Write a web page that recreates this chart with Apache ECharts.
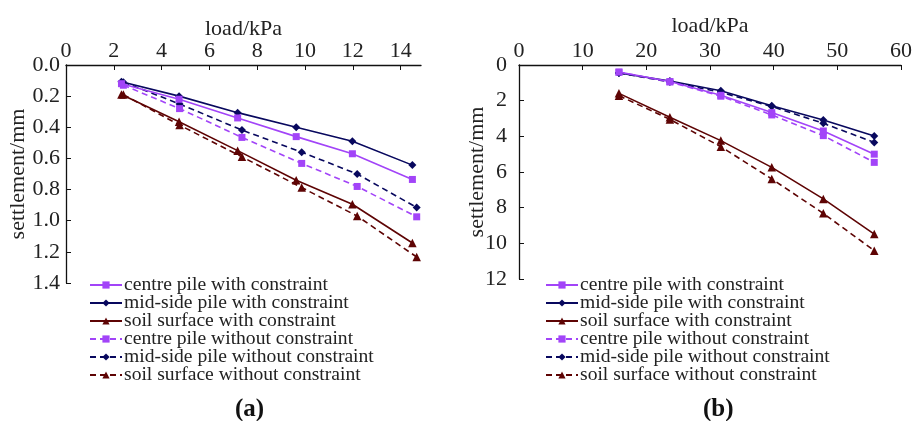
<!DOCTYPE html>
<html><head><meta charset="utf-8">
<script src="https://cdn.jsdelivr.net/npm/echarts@6/dist/echarts.min.js"></script>
<style>html,body{margin:0;padding:0;background:#fff}#c{width:915px;height:421px}</style>
</head><body><div id="c"></div>
<script>
const seriesNames = ['centre pile with constraint','mid-side pile with constraint','soil surface with constraint','centre pile without constraint','mid-side pile without constraint','soil surface without constraint'];
// Chart (a)
const loadA_with = [2.32, 4.73, 7.18, 9.63, 11.98, 14.49];
const loadA_without = [2.4, 4.75, 7.36, 9.86, 12.18, 14.67];
const a_centreWith = [0.12, 0.22, 0.34, 0.46, 0.57, 0.735];
const a_midWith = [0.107, 0.20, 0.306, 0.40, 0.49, 0.643];
const a_soilWith = [0.19, 0.364, 0.55, 0.74, 0.894, 1.143];
const a_centreWithout = [0.13, 0.28, 0.465, 0.632, 0.78, 0.975];
const a_midWithout = [0.11, 0.25, 0.418, 0.56, 0.70, 0.915];
const a_soilWithout = [0.19, 0.386, 0.59, 0.787, 0.97, 1.233];
// Chart (b)
const loadB = [15.7, 23.7, 31.7, 39.7, 47.8, 55.8];
const b_centreWith = [0.4, 0.93, 1.7, 2.67, 3.7, 5.0];
const b_midWith = [0.45, 0.9, 1.44, 2.28, 3.08, 3.98];
const b_soilWith = [1.59, 2.93, 4.24, 5.74, 7.51, 9.48];
const b_centreWithout = [0.4, 0.95, 1.75, 2.8, 3.96, 5.46];
const b_midWithout = [0.45, 0.95, 1.53, 2.33, 3.27, 4.34];
const b_soilWithout = [1.72, 3.05, 4.58, 6.39, 8.32, 10.41];

const colors = ['#a244f8', '#08085e', '#5e0404', '#a244f8', '#08085e', '#5e0404'];
const symbols = ['rect', 'diamond', 'triangle', 'rect', 'diamond', 'triangle'];
const symSizes = [7, 8, 8.5, 7, 8, 8.5];
const font = 'Liberation Serif, Times New Roman, serif';

function zip(xs, ys){ return xs.map((x,i)=>[x, ys[i]]); }
function mk(idx, xs, ys, gi){
  return {
    name: seriesNames[idx], type: 'line', xAxisIndex: gi, yAxisIndex: gi,
    data: zip(xs, ys), symbol: symbols[idx], symbolSize: symSizes[idx],
    showAllSymbol: true,
    itemStyle: {color: colors[idx]},
    lineStyle: {color: colors[idx], width: 1.6, type: idx >= 3 ? [6,4] : 'solid'},
    animation: false, z: 10 - idx
  };
}
const axisCommon = {
  axisLine: {show: true, lineStyle: {color: '#111', width: 1.3}},
  axisTick: {show: true, inside: true, length: 5, lineStyle: {color: '#111'}},
  splitLine: {show: false},
  nameMoveOverlap: false,
  axisLabel: {color: '#222', fontFamily: font, fontSize: 22},
  nameTextStyle: {color: '#222', fontFamily: font, fontSize: 22}
};
const chart = echarts.init(document.getElementById('c'));
const legendCommon = {
  orient: 'vertical', itemWidth: 32, itemHeight: 9, itemGap: -2,
  textStyle: {fontFamily: font, fontSize: 19.6, color: '#222', lineHeight: 18, padding: [0,0,0,-3]},
  data: seriesNames
};
chart.setOption({
  backgroundColor: '#fff',
  animation: false,
  grid: [
    {left: 66, top: 65, width: 355, height: 218},
    {left: 519, top: 65, width: 383, height: 214}
  ],
  xAxis: [
    Object.assign({}, axisCommon, {gridIndex: 0, type: 'value', position: 'top', min: 0, max: 14.85, interval: 2,
      name: 'load/kPa', nameLocation: 'middle', nameGap: 25,
      axisLabel: Object.assign({}, axisCommon.axisLabel, {margin: 3, showMaxLabel: false, formatter: v => (Math.abs(v % 2) < 1e-9 ? String(v) : '')})}),
    Object.assign({}, axisCommon, {gridIndex: 1, type: 'value', position: 'top', min: 0, max: 60, interval: 10,
      name: 'load/kPa', nameLocation: 'middle', nameGap: 28,
      axisLabel: Object.assign({}, axisCommon.axisLabel, {margin: 3})})
  ],
  yAxis: [
    Object.assign({}, axisCommon, {gridIndex: 0, type: 'value', inverse: true, min: 0, max: 1.4, interval: 0.2,
      name: 'settlement/mm', nameLocation: 'middle', nameGap: 37,
      axisLabel: Object.assign({}, axisCommon.axisLabel, {margin: 6, formatter: v => v.toFixed(1)})}),
    Object.assign({}, axisCommon, {gridIndex: 1, type: 'value', inverse: true, min: 0, max: 12, interval: 2,
      name: 'settlement/mm', nameLocation: 'middle', nameGap: 31,
      axisLabel: Object.assign({}, axisCommon.axisLabel, {margin: 12})})
  ],
  legend: [
    Object.assign({}, legendCommon, {left: 84, top: 270}),
    Object.assign({}, legendCommon, {left: 540, top: 270})
  ],
  title: [
    {text: '(a)', left: 230, top: 392,
      textStyle: {fontFamily: font, fontSize: 25, fontWeight: 'bold', color: '#111'}},
    {text: '(b)', left: 698, top: 392,
      textStyle: {fontFamily: font, fontSize: 25, fontWeight: 'bold', color: '#111'}}
  ],
  series: [
    mk(0, loadA_with, a_centreWith, 0),
    mk(1, loadA_with, a_midWith, 0),
    mk(2, loadA_with, a_soilWith, 0),
    mk(3, loadA_without, a_centreWithout, 0),
    mk(4, loadA_without, a_midWithout, 0),
    mk(5, loadA_without, a_soilWithout, 0),
    mk(0, loadB, b_centreWith, 1),
    mk(1, loadB, b_midWith, 1),
    mk(2, loadB, b_soilWith, 1),
    mk(3, loadB, b_centreWithout, 1),
    mk(4, loadB, b_midWithout, 1),
    mk(5, loadB, b_soilWithout, 1)
  ]
});
</script></body></html>
